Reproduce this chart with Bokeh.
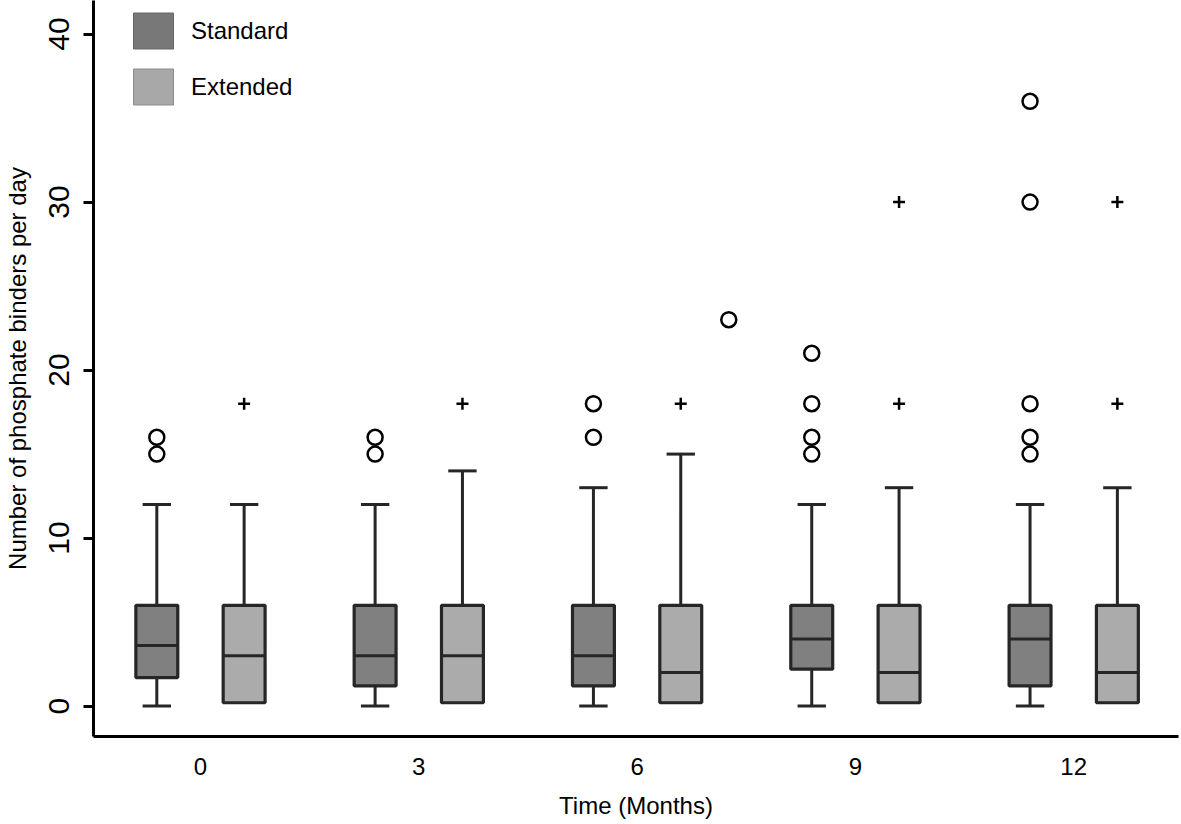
import math
from bokeh.plotting import figure
from bokeh.models import Range1d, FixedTicker, Legend, LegendItem
from bokeh.embed import file_html
from bokeh.resources import INLINE

# ---------------- data ----------------
months = ["0", "3", "6", "9", "12"]

std_low = [0, 0, 0, 0, 0]
std_q1 = [1.7, 1.2, 1.2, 2.2, 1.2]
std_med = [3.6, 3, 3, 4, 4]
std_q3 = [6, 6, 6, 6, 6]
std_high = [12, 12, 13, 12, 12]

ext_low = [0.2, 0.2, 0.2, 0.2, 0.2]
ext_q1 = [0.2, 0.2, 0.2, 0.2, 0.2]
ext_med = [3, 3, 2, 2, 2]
ext_q3 = [6, 6, 6, 6, 6]
ext_high = [12, 14, 15, 13, 13]

# outliers: (month, value)
std_out_month = ["0", "0", "3", "3", "6", "6", "9", "9", "9", "9", "12", "12", "12", "12", "12"]
std_out_value = [15, 16, 15, 16, 16, 18, 15, 16, 18, 21, 15, 16, 18, 30, 36]
ext_out_month = ["0", "3", "6", "9", "9", "12", "12"]
ext_out_value = [18, 18, 18, 18, 30, 18, 30]
stray_out_month = ["6"]
stray_out_value = [23]

# ---------------- layout / style ----------------
STD_OFF, EXT_OFF, STRAY_OFF = -0.2, 0.2, 0.42
BOX_W, CAP_W = 0.192, 0.13
STD_FILL, EXT_FILL, EDGE = "#808080", "#ababab", "#262626"
FONT = "Liberation Sans"

idx = {m: i for i, m in enumerate(months)}

p = figure(width=1180, height=822,
           x_range=Range1d(-0.49, 4.48), y_range=Range1d(-1.81, 42.0),
           output_backend="svg", toolbar_location=None,
           min_border_left=93, min_border_right=2, min_border_top=0, min_border_bottom=86)
p.outline_line_color = None
p.xgrid.visible = False
p.ygrid.visible = False
p.background_fill_color = "white"
p.border_fill_color = "white"


def draw_series(off, low, q1, med, q3, high, fill):
    xs = [i + off for i in range(len(months))]
    # upper whiskers
    p.segment(x0=xs, y0=q3, x1=xs, y1=high, line_color=EDGE, line_width=3)
    p.segment(x0=[x - CAP_W / 2 for x in xs], y0=high, x1=[x + CAP_W / 2 for x in xs], y1=high,
              line_color=EDGE, line_width=3)
    # lower whiskers (only where present)
    lx = [x for x, l, q in zip(xs, low, q1) if l < q]
    ll = [l for l, q in zip(low, q1) if l < q]
    lq = [q for l, q in zip(low, q1) if l < q]
    if lx:
        p.segment(x0=lx, y0=lq, x1=lx, y1=ll, line_color=EDGE, line_width=3)
        p.segment(x0=[x - CAP_W / 2 for x in lx], y0=ll, x1=[x + CAP_W / 2 for x in lx], y1=ll,
                  line_color=EDGE, line_width=3)
    # boxes
    p.vbar(x=xs, width=BOX_W, bottom=q1, top=q3, fill_color=fill, line_color=EDGE, line_width=3.2)
    # medians
    p.segment(x0=[x - BOX_W / 2 for x in xs], y0=med, x1=[x + BOX_W / 2 for x in xs], y1=med,
              line_color=EDGE, line_width=3)


draw_series(STD_OFF, std_low, std_q1, std_med, std_q3, std_high, STD_FILL)
draw_series(EXT_OFF, ext_low, ext_q1, ext_med, ext_q3, ext_high, EXT_FILL)

p.scatter(x=[idx[m] + STD_OFF for m in std_out_month], y=std_out_value, marker="circle", size=15,
          fill_color="white", line_color="black", line_width=2.5)
p.scatter(x=[idx[m] + STRAY_OFF for m in stray_out_month], y=stray_out_value, marker="circle", size=15,
          fill_color="white", line_color="black", line_width=2.5)
p.scatter(x=[idx[m] + EXT_OFF for m in ext_out_month], y=ext_out_value, marker="cross", size=12,
          line_color="black", line_width=2.5)

# legend (dummy renderers with thin border)
nan = float("nan")
r_std = p.vbar(x=[0], width=0.1, top=[nan], bottom=[nan], fill_color="#787878", line_color="#666666", line_width=1)
r_ext = p.vbar(x=[0], width=0.1, top=[nan], bottom=[nan], fill_color="#a8a8a8", line_color="#8a8a8a", line_width=1)
legend = Legend(items=[LegendItem(label="Standard", renderers=[r_std]),
                       LegendItem(label="Extended", renderers=[r_ext])],
                location=(35, 627), orientation="vertical",
                glyph_width=50, glyph_height=45, spacing=11, label_standoff=13,
                padding=4, margin=0, border_line_color=None, background_fill_alpha=0,
                label_text_font_size="24px", label_text_font=FONT, label_text_color="black")
p.add_layout(legend)

# axes
ya = p.yaxis[0]
ya.ticker = FixedTicker(ticks=[0, 10, 20, 30, 40])
ya.axis_line_width = 3
ya.axis_line_color = "black"
ya.major_tick_line_width = 3
ya.major_tick_line_color = "black"
ya.major_tick_out = 10
ya.major_tick_in = 0
ya.minor_tick_line_color = None
ya.major_label_orientation = "vertical"
ya.major_label_text_font_size = "30px"
ya.major_label_text_font = FONT
ya.major_label_text_color = "black"
ya.major_label_standoff = 14
ya.axis_label = "Number of phosphate binders per day"
ya.axis_label_text_font_size = "24px"
ya.axis_label_text_font = FONT
ya.axis_label_text_font_style = "normal"
ya.axis_label_text_color = "black"
ya.axis_label_standoff = 16

xa = p.xaxis[0]
xa.ticker = FixedTicker(ticks=list(range(len(months))))
xa.major_label_overrides = {i: m for i, m in enumerate(months)}
xa.axis_line_width = 3
xa.axis_line_color = "black"
xa.major_tick_line_color = None
xa.major_tick_out = 0
xa.major_tick_in = 0
xa.minor_tick_line_color = None
xa.major_label_text_font_size = "24px"
xa.major_label_text_font = FONT
xa.major_label_text_color = "black"
xa.major_label_standoff = 21
xa.axis_label = "Time (Months)"
xa.axis_label_text_font_size = "24px"
xa.axis_label_text_font = FONT
xa.axis_label_text_font_style = "normal"
xa.axis_label_text_color = "black"
xa.axis_label_standoff = 14

open("out.html", "w").write(file_html(p, INLINE))
